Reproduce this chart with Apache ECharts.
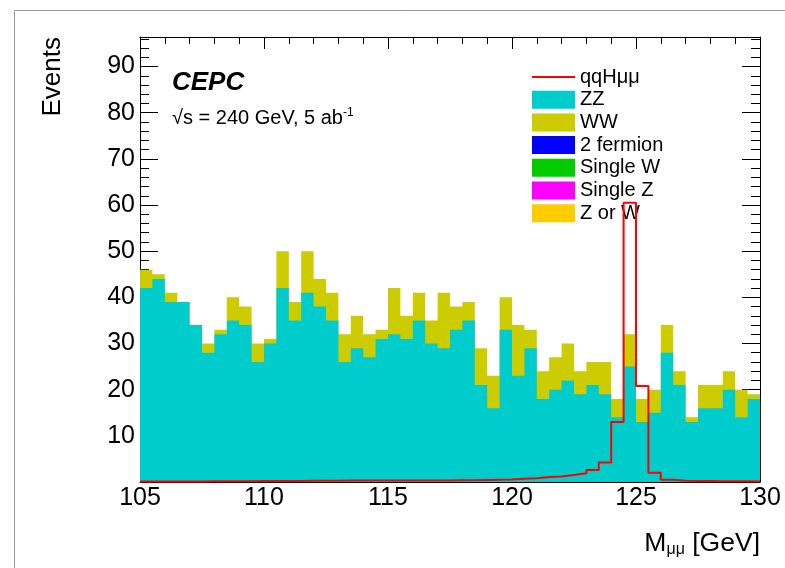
<!DOCTYPE html>
<html>
<head>
<meta charset="utf-8">
<script src="https://cdn.jsdelivr.net/npm/echarts@6/dist/echarts.min.js"></script>
<style>
  html, body { margin: 0; padding: 0; background: #fff; }
  #chart { width: 785px; height: 568px; }
</style>
</head>
<body>
<div id="chart"></div>
<script>
// M_mumu histogram, 50 bins of 0.5 GeV from 105 to 130
const massLow = 105
const massHigh = 130
const binWidth = 0.5

const zz = [42, 44, 39, 39, 34, 28, 32, 35, 34, 26,
  30, 42, 35, 41, 38, 35, 26, 29, 27, 31,
  32, 31, 35, 30, 29, 33, 35, 21, 16, 33,
  23, 29, 18, 20, 22, 19, 21, 19, 14, 25,
  13, 15, 28, 21, 13, 16, 16, 20, 14, 18]
const ww = [4, 1, 2, 0, 0, 2, 1, 5, 4, 4,
  1, 8, 4, 9, 6, 6, 6, 7, 5, 2,
  10, 5, 6, 5, 12, 5, 4, 8, 7, 7,
  11, 4, 6, 7, 8, 5, 5, 7, 4, 7,
  5, 5, 6, 3, 1, 5, 5, 4, 6, 1]
const qqHmumu = [0.1, 0.1, 0.1, 0.1, 0.1, 0.15, 0.15, 0.15, 0.15, 0.2,
  0.2, 0.2, 0.2, 0.25, 0.25, 0.25, 0.3, 0.3, 0.3, 0.3,
  0.3, 0.3, 0.35, 0.35, 0.35, 0.4, 0.4, 0.45, 0.5, 0.55,
  0.7, 0.8, 1.1, 1.2, 1.5, 1.9, 2.6, 4.2, 13, 60.5,
  20.8, 2.0, 0.5, 0.25, 0.2, 0.2, 0.15, 0.15, 0.15, 0.1]

const emptySamples = [
  ['2 fermion', '#0000ff'],
  ['Single W', '#00cc00'],
  ['Single Z', '#ff00ff'],
  ['Z or W', '#ffcc00']
]

const yMax = 96.4
const font = 'Liberation Sans'

// histogram -> step points at the low edge of each bin, closed at the high edge
function steps(values) {
  const pts = values.map((v, i) => [massLow + i * binWidth, v])
  pts.push([massHigh, values[values.length - 1]])
  return pts
}

// THStack: WW sits on top of ZZ
const zzPlusWw = zz.map((v, i) => v + ww[i])

function frameX(pos, showLabel) {
  return {
    type: 'value', min: massLow, max: massHigh, interval: 5, position: pos,
    axisLine: { show: true, onZero: false, lineStyle: { color: '#000', width: 1 } },
    axisTick: { show: true, inside: true, length: 12, lineStyle: { color: '#000' } },
    minorTick: { show: true, splitNumber: 5, length: pos === 'top' ? 7 : 6, lineStyle: { color: '#000' } },
    splitLine: { show: false },
    axisLabel: { show: showLabel, fontSize: 25, fontFamily: font, color: '#000', margin: 4 }
  }
}

function frameY(pos, interval, tickLen, showLabel) {
  return {
    type: 'value', min: 0, max: yMax, interval: interval, position: pos,
    axisLine: { show: interval === 10, lineStyle: { color: '#000', width: 1 } },
    axisTick: { show: true, inside: true, length: tickLen, lineStyle: { color: '#000' } },
    splitLine: { show: false },
    axisLabel: {
      show: showLabel, fontSize: 25, fontFamily: font, color: '#000', margin: 5,
      formatter: v => (v > 0 && v % 10 === 0 && v < 95) ? String(v) : ''
    }
  }
}

const series = [
  {
    name: 'WW', type: 'line', step: 'end', data: steps(zzPlusWw),
    symbol: 'none', color: '#cccc00', lineStyle: { width: 0 },
    areaStyle: { color: '#cccc00', opacity: 1 }, z: 2, silent: true
  },
  {
    name: 'ZZ', type: 'line', step: 'end', data: steps(zz),
    symbol: 'none', color: '#00cccc', lineStyle: { width: 0 },
    areaStyle: { color: '#00cccc', opacity: 1 }, z: 3, silent: true
  },
  {
    name: 'qqHμμ', type: 'line', step: 'end', data: steps(qqHmumu),
    symbol: 'none', color: '#ff0000', lineStyle: { width: 2, color: '#ff0000' }, z: 5, silent: true
  }
]
emptySamples.forEach(s => {
  series.push({ name: s[0], type: 'line', data: [], symbol: 'none', color: s[1] })
})

var myChart = echarts.init(document.getElementById('chart'))
const option = {
  animation: false,
  backgroundColor: '#fff',
  grid: { left: 140, right: 25, top: 37, bottom: 86 },
  xAxis: [frameX('bottom', true), frameX('top', false)],
  yAxis: [
    frameY('left', 10, 18, true),
    frameY('left', 2, 9, false),
    frameY('right', 10, 18, false),
    frameY('right', 2, 9, false)
  ],
  legend: {
    orient: 'vertical', left: 532, top: 67, padding: 0,
    itemWidth: 43, itemHeight: 18, itemGap: 2.7,
    selectedMode: false,
    symbolKeepAspect: true,
    itemStyle: { borderWidth: 0 },
    textStyle: { fontFamily: font, fontSize: 20, lineHeight: 18, color: '#000' },
    data: [
      { name: 'qqHμμ', icon: 'path://M0,0 L43,0 L43,2 L0,2 Z' },
      { name: 'ZZ', icon: 'rect' },
      { name: 'WW', icon: 'rect' }
    ].concat(emptySamples.map(s => ({ name: s[0], icon: 'rect' })))
  },
  graphic: [
    {
      type: 'rect', silent: true,
      shape: { x: 14.5, y: 10.5, width: 900, height: 900 },
      style: { fill: 'none', stroke: '#999', lineWidth: 1 }
    },
    {
      type: 'text', x: 172, y: 83,
      style: { text: 'CEPC', fontFamily: font, fontStyle: 'italic', fontWeight: 'bold', fontSize: 26, fill: '#000', verticalAlign: 'middle' }
    },
    {
      type: 'text', x: 172, y: 118,
      style: {
        text: '{a|√s = 240 GeV, 5 ab}{s|-1}', verticalAlign: 'middle', fill: '#000',
        rich: {
          a: { fontFamily: font, fontSize: 20, lineHeight: 22, color: '#000' },
          s: { fontFamily: font, fontSize: 12, lineHeight: 9, verticalAlign: 'top', color: '#000' }
        }
      }
    },
    {
      type: 'text', x: 53, y: 37, rotation: Math.PI / 2,
      style: { text: 'Events', fontFamily: font, fontSize: 26, fill: '#000', align: 'right', verticalAlign: 'middle' }
    },
    {
      type: 'text', x: 760, y: 544,
      style: {
        text: '{a|M}{b|μμ}{a| [GeV]}', align: 'right', verticalAlign: 'middle', fill: '#000',
        rich: {
          a: { fontFamily: font, fontSize: 26.5, lineHeight: 27, color: '#000' },
          b: { fontFamily: font, fontSize: 16, lineHeight: 12, verticalAlign: 'bottom', color: '#000' }
        }
      }
    }
  ],
  series: series
}
myChart.setOption(option)
</script>
</body>
</html>
